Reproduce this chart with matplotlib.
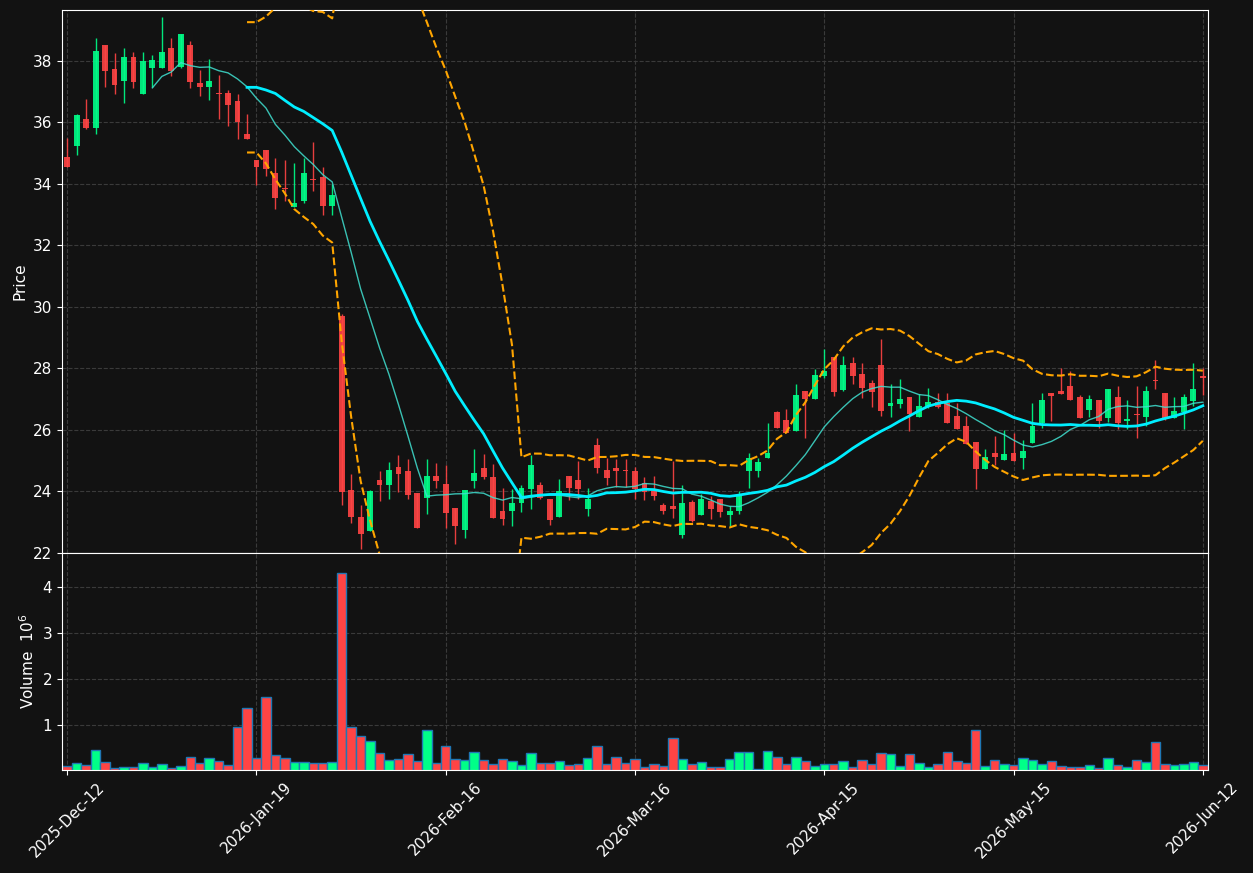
import numpy as np
import matplotlib
matplotlib.use('Agg')
import matplotlib.pyplot as plt
import pandas as pd

# dados (um candle por pregao)
opens = [34.86, 35.23, 36.09, 35.81, 38.50, 37.72, 37.33, 38.11, 36.91, 37.75,
         37.75, 38.41, 37.80, 38.50, 37.27, 37.14, 36.93, 36.94, 36.68, 35.61,
         34.76, 35.09, 34.34, 33.85, 33.25, 33.44, 34.14, 34.22, 33.28, 29.70,
         24.05, 23.17, 22.70, 24.38, 24.22, 24.79, 24.67, 23.94, 23.80, 24.50,
         24.25, 23.46, 22.76, 24.34, 24.76, 24.47, 23.37, 23.35, 23.64, 24.09,
         24.21, 23.76, 23.16, 24.50, 24.38, 23.44, 25.51, 24.69, 24.76, 24.68,
         24.67, 24.26, 24.01, 23.56, 23.52, 22.57, 23.66, 23.25, 23.70, 23.76,
         23.25, 23.35, 24.68, 24.68, 25.08, 26.58, 26.32, 25.98, 27.27, 27.02,
         27.75, 28.37, 27.31, 28.16, 27.81, 27.53, 28.11, 26.79, 26.85, 27.07,
         26.43, 26.78, 26.91, 26.87, 26.45, 26.13, 25.60, 24.74, 25.25, 25.02,
         25.25, 25.10, 25.58, 26.21, 27.20, 27.27, 27.42, 27.07, 26.66, 26.97,
         26.40, 27.07, 26.30, 26.52, 26.43, 27.61, 27.20, 26.40, 26.57, 26.94,
         27.75]
highs = [35.48, 36.28, 36.74, 38.74, 38.50, 38.26, 38.41, 38.29, 38.29, 38.20,
         39.43, 38.74, 38.86, 38.65, 37.71, 38.07, 37.53, 37.06, 36.93, 36.28,
         34.76, 35.09, 34.85, 34.78, 34.67, 34.84, 35.35, 34.56, 33.99, 29.76,
         24.57, 23.55, 24.04, 24.66, 24.96, 25.19, 25.05, 23.94, 25.05, 24.91,
         24.85, 23.46, 24.05, 25.39, 25.23, 24.90, 24.11, 24.09, 24.20, 25.17,
         24.30, 23.76, 24.40, 24.50, 24.99, 24.11, 25.73, 25.08, 25.06, 25.06,
         24.78, 24.46, 24.50, 23.63, 24.99, 24.20, 23.71, 23.91, 23.84, 23.76,
         23.53, 24.02, 25.25, 25.08, 26.23, 26.63, 26.68, 27.48, 27.27, 27.98,
         28.63, 28.37, 28.41, 28.37, 28.16, 27.62, 28.94, 27.50, 27.65, 27.07,
         27.18, 27.36, 27.19, 27.19, 26.88, 26.45, 25.60, 25.39, 25.79, 26.01,
         25.90, 25.66, 26.86, 27.19, 27.20, 28.01, 27.90, 27.14, 27.14, 26.97,
         27.33, 27.42, 26.97, 27.44, 27.44, 28.26, 27.20, 27.07, 27.16, 28.18,
         28.00]
lows = [34.55, 34.95, 35.79, 35.62, 37.15, 36.92, 36.62, 37.12, 36.91, 37.15,
        37.75, 37.50, 37.77, 37.12, 36.84, 36.72, 36.10, 35.88, 35.46, 35.46,
        33.96, 34.24, 33.17, 33.45, 33.25, 33.36, 33.75, 32.98, 32.98, 23.55,
        22.99, 22.14, 22.70, 23.70, 23.75, 23.98, 23.75, 22.80, 23.27, 24.12,
        22.82, 22.29, 22.48, 24.11, 24.40, 23.15, 22.90, 22.88, 23.32, 23.42,
        23.77, 22.90, 23.16, 23.71, 23.75, 23.19, 24.59, 24.22, 24.13, 24.15,
        23.75, 23.71, 23.71, 23.26, 23.15, 22.48, 23.00, 23.25, 23.10, 23.16,
        22.88, 23.27, 24.12, 24.46, 25.08, 26.06, 25.90, 25.98, 25.73, 27.02,
        27.70, 27.11, 27.26, 27.50, 27.05, 26.74, 26.45, 26.42, 26.70, 25.95,
        26.43, 26.71, 26.71, 26.21, 26.04, 25.53, 24.09, 24.74, 24.85, 25.02,
        25.00, 24.74, 25.58, 26.06, 26.30, 27.18, 26.97, 26.40, 26.43, 26.06,
        26.25, 26.02, 26.02, 25.75, 26.14, 27.32, 26.32, 26.40, 26.03, 26.77,
        27.15]
closes = [34.55, 36.23, 35.81, 38.30, 37.68, 37.21, 38.11, 37.30, 37.98, 38.01,
          38.27, 37.67, 38.86, 37.30, 37.14, 37.33, 36.91, 36.57, 36.01, 35.46,
          34.55, 34.49, 33.54, 33.83, 33.36, 34.34, 34.12, 33.28, 33.63, 23.99,
          23.18, 22.60, 24.00, 24.21, 24.70, 24.57, 23.89, 22.80, 24.51, 24.34,
          23.30, 22.89, 24.05, 24.60, 24.46, 23.15, 23.09, 23.63, 24.11, 24.86,
          23.80, 23.08, 24.02, 24.12, 24.08, 23.76, 24.77, 24.44, 24.65, 24.66,
          24.08, 23.99, 23.84, 23.35, 23.44, 23.63, 23.05, 23.74, 23.43, 23.32,
          23.37, 23.89, 25.08, 24.96, 25.25, 26.06, 25.90, 27.13, 27.02, 27.79,
          27.90, 27.24, 28.10, 27.76, 27.35, 27.24, 26.62, 26.87, 27.01, 26.51,
          26.78, 26.91, 26.76, 26.21, 26.04, 25.55, 24.74, 25.11, 25.13, 25.23,
          25.00, 25.31, 26.13, 26.97, 27.09, 27.18, 26.97, 26.40, 27.01, 26.30,
          27.33, 26.21, 26.36, 26.50, 27.26, 27.59, 26.40, 26.60, 27.07, 27.33,
          27.69]
# volume em milhoes
volumes = [0.10, 0.17, 0.12, 0.45, 0.19, 0.06, 0.07, 0.07, 0.17, 0.07,
           0.15, 0.06, 0.10, 0.30, 0.17, 0.28, 0.21, 0.12, 0.94, 1.36,
           0.28, 1.60, 0.34, 0.28, 0.19, 0.19, 0.17, 0.17, 0.19, 4.32,
           0.94, 0.76, 0.65, 0.39, 0.23, 0.26, 0.37, 0.21, 0.89, 0.17,
           0.54, 0.26, 0.23, 0.41, 0.23, 0.15, 0.26, 0.21, 0.12, 0.39,
           0.17, 0.17, 0.21, 0.12, 0.15, 0.28, 0.54, 0.15, 0.30, 0.17,
           0.26, 0.07, 0.15, 0.10, 0.70, 0.26, 0.15, 0.19, 0.07, 0.07,
           0.26, 0.41, 0.41, 0.04, 0.43, 0.30, 0.15, 0.30, 0.21, 0.10,
           0.15, 0.15, 0.21, 0.07, 0.23, 0.15, 0.39, 0.37, 0.10, 0.37,
           0.17, 0.07, 0.15, 0.41, 0.21, 0.17, 0.89, 0.10, 0.23, 0.15,
           0.12, 0.28, 0.23, 0.15, 0.21, 0.10, 0.07, 0.07, 0.12, 0.06,
           0.28, 0.12, 0.07, 0.23, 0.19, 0.63, 0.15, 0.12, 0.15, 0.19,
           0.12]
tick_pos = [0, 20, 40, 60, 80, 100, 120]
tick_labels = ['2025-Dec-12', '2026-Jan-19', '2026-Feb-16', '2026-Mar-16',
               '2026-Apr-15', '2026-May-15', '2026-Jun-12']

dados = pd.DataFrame({'Open': opens, 'High': highs, 'Low': lows,
                      'Close': closes, 'Volume': volumes})

# medias moveis e bandas de bollinger
ma10 = dados['Close'].rolling(10).mean()
ma20 = dados['Close'].rolling(20).mean()
std20 = dados['Close'].rolling(20).std(ddof=0)
bb_up = ma20 + 2 * std20
bb_low = ma20 - 2 * std20

bg = '#121212'
up_col = '#00ff88'
down_col = '#ff4444'
txt = 'white'

fig = plt.figure(figsize=(12.53, 8.73), dpi=100, facecolor=bg)
ax1 = fig.add_axes([0.0495, 0.3666, 0.9146, 0.6220])
ax2 = fig.add_axes([0.0495, 0.1180, 0.9146, 0.2486], sharex=ax1)

x = np.arange(len(dados))
subiu = dados['Close'] >= dados['Open']
cores = np.where(subiu, up_col, down_col)

# candles
corpo_base = np.minimum(dados['Open'], dados['Close'])
corpo_alt = np.maximum(np.abs(dados['Close'] - dados['Open']), 0.03)
ax1.vlines(x, dados['Low'], dados['High'], colors=cores, linewidth=1.0, alpha=0.9, zorder=3)
ax1.bar(x, corpo_alt, bottom=corpo_base, width=0.62, color=cores, alpha=0.9,
        linewidth=0, zorder=4)

ax1.plot(x, ma10, color='#40e0d0', linewidth=1.0, alpha=0.85, zorder=5)
ax1.plot(x, ma20, color='#00eeff', linewidth=2.0, zorder=5)
ax1.plot(x, bb_up, color='#ffa500', linewidth=1.5, linestyle='--', zorder=5)
ax1.plot(x, bb_low, color='#ffa500', linewidth=1.5, linestyle='--', zorder=5)

# volume
ax2.bar(x, dados['Volume'], width=1.0, color=cores, edgecolor='#1f77b4', linewidth=1.0)

for ax in (ax1, ax2):
    ax.set_facecolor(bg)
    ax.grid(True, color='#3a3a3a', linestyle='--', linewidth=0.8)
    ax.set_axisbelow(True)
    for s in ax.spines.values():
        s.set_color(txt)
    ax.tick_params(colors=txt, labelsize=11)

ax1.set_xlim(-0.55, 120.55)
ax1.set_ylim(22, 39.65)
ax1.set_yticks(np.arange(22, 39, 2))
ax1.set_ylabel('Price', color=txt, fontsize=11)
ax1.tick_params(axis='x', labelbottom=False)

ax2.set_ylim(0.3 * min(volumes), 1.1 * max(volumes))
ax2.set_yticks([1, 2, 3, 4])
ax2.set_ylabel('Volume  $10^{6}$', color=txt, fontsize=11)
ax2.set_xticks(tick_pos)
ax2.set_xticklabels(tick_labels, rotation=45, ha='center')

fig.savefig('out.png', dpi=100, facecolor=bg)
